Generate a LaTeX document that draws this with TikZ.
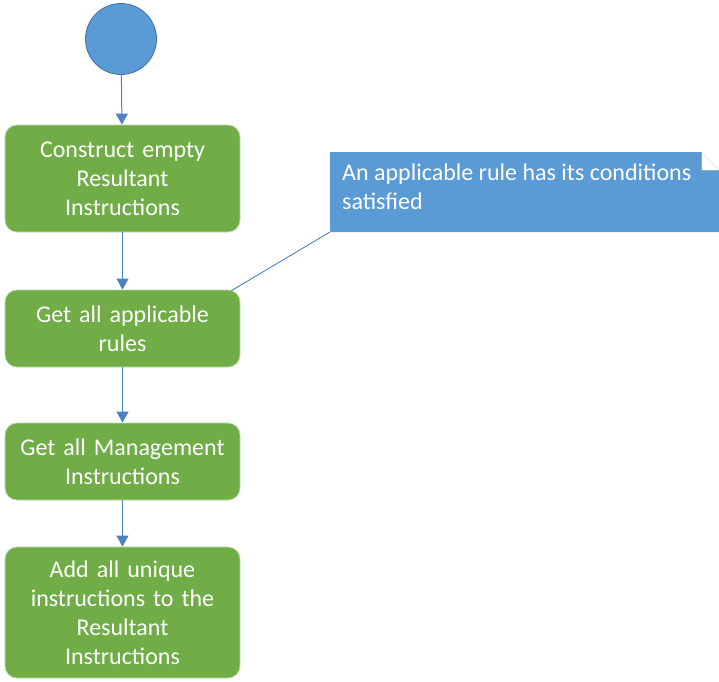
\documentclass[tikz,border=0pt]{standalone}
\usepackage{fontspec}
\setmainfont{Carlito}
\usetikzlibrary{arrows.meta}
\definecolor{actgreen}{HTML}{70AD47}
\definecolor{actedge}{HTML}{B9D9A3}
\definecolor{startblue}{HTML}{5B9BD5}
\definecolor{startedge}{HTML}{41719C}
\definecolor{flowblue}{HTML}{4F81BD}
\tikzset{
  x=1pt, y=-1pt,
  action/.style={draw=actedge, line width=0.8pt, fill=actgreen, rounded corners=12pt, text=white,
    font=\fontsize{24}{29}\selectfont, align=center, minimum width=235pt, inner sep=0pt, text width=230pt},
  flow/.style={draw=flowblue, line width=1pt, -{Triangle[width=12pt,length=11pt]}},
  notetext/.style={text=white, font=\fontsize{24}{29}\selectfont, align=left, anchor=north west, inner sep=0pt}
}
\begin{document}
\begin{tikzpicture}
\useasboundingbox (0,0) rectangle (719,681);
% start node
\node[circle, draw=startedge, line width=0.8pt, fill=startblue, minimum size=71pt, inner sep=0pt] (start) at (121,39) {};
% actions
\node[action, minimum height=107pt] (a1) at (122.5,178.5) {Construct empty\\Resultant\\Instructions};
\node[action, minimum height=77pt] (a2) at (122.5,328.5) {Get all applicable\\rules};
\node[action, minimum height=77pt] (a3) at (122.5,461.5) {Get all Management\\Instructions};
\node[action, minimum height=131pt] (a4) at (122.5,612.5) {Add all unique\\instructions to the\\Resultant\\Instructions};
% note
\fill[startblue] (330,152) -- (701,152) -- (719,170) -- (719,232) -- (330,232) -- cycle;
\fill[white] (701,152) -- (719,170) -- (701,170) -- cycle;
\draw[startedge!60, line width=0.4pt] (701,152) -- (701,170) -- (719,170);
\coordinate (notecorner) at (330,232);
\node[notetext] (note) at (342,164) {An applicable rule has its conditions\\satisfied};
% connectors
\draw[flow] (start) -- (a1);
\draw[flow] (a1) -- (a2);
\draw[flow] (a2) -- (a3);
\draw[flow] (a3) -- (a4);
\coordinate (a2hook) at ([shift={(-9,1)}]a2.north east);
\draw[flowblue, line width=0.9pt] (notecorner) -- (a2hook);
\end{tikzpicture}
\end{document}
